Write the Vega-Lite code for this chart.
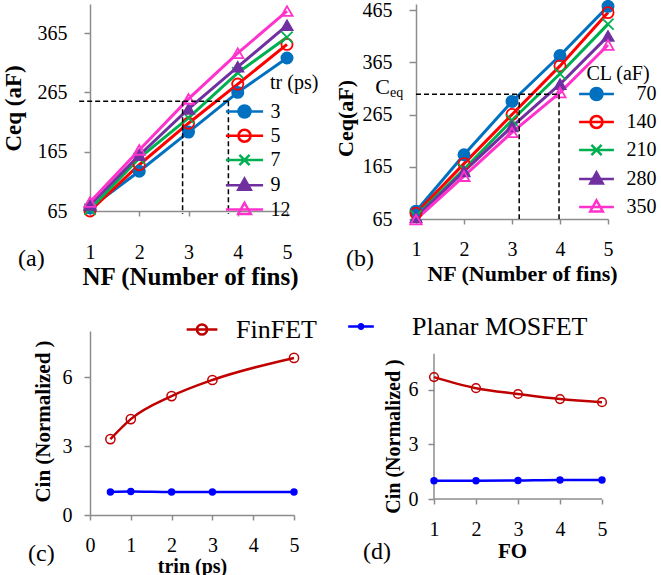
{
  "$schema": "https://vega.github.io/schema/vega-lite/v6.json",
  "padding": {"left": 1, "top": -3, "right": 0, "bottom": 0},
  "background": "white",
  "config": {
    "font": "Liberation Serif",
    "view": {"stroke": null},
    "axis": {"grid": false, "domainColor": "#8c8c8c", "domainWidth": 1.5, "tickColor": "#8c8c8c", "tickWidth": 1.5, "labelFontSize": 20, "labelColor": "black", "titleColor": "black", "titleFontWeight": "bold", "labelFlush": false, "labelOverlap": false, "titleBaseline": "middle"},
    "legend": {"labelFontSize": 20, "titleFontSize": 20, "titleFontWeight": "normal", "labelColor": "black", "titleColor": "black", "padding": 0, "labelLimit": 400},
    "title": {"fontSize": 24, "fontWeight": "normal", "color": "black"}
  },
  "datasets": {
    "a": [
      {"tr": "3", "NF": 1, "Ceq": 70}, {"tr": "3", "NF": 2, "Ceq": 132}, {"tr": "3", "NF": 3, "Ceq": 198}, {"tr": "3", "NF": 4, "Ceq": 265}, {"tr": "3", "NF": 5, "Ceq": 323},
      {"tr": "5", "NF": 1, "Ceq": 65}, {"tr": "5", "NF": 2, "Ceq": 143}, {"tr": "5", "NF": 3, "Ceq": 213}, {"tr": "5", "NF": 4, "Ceq": 279}, {"tr": "5", "NF": 5, "Ceq": 346},
      {"tr": "7", "NF": 1, "Ceq": 68}, {"tr": "7", "NF": 2, "Ceq": 154}, {"tr": "7", "NF": 3, "Ceq": 222}, {"tr": "7", "NF": 4, "Ceq": 298}, {"tr": "7", "NF": 5, "Ceq": 358},
      {"tr": "9", "NF": 1, "Ceq": 75}, {"tr": "9", "NF": 2, "Ceq": 159}, {"tr": "9", "NF": 3, "Ceq": 237}, {"tr": "9", "NF": 4, "Ceq": 308}, {"tr": "9", "NF": 5, "Ceq": 378},
      {"tr": "12", "NF": 1, "Ceq": 80}, {"tr": "12", "NF": 2, "Ceq": 168}, {"tr": "12", "NF": 3, "Ceq": 254}, {"tr": "12", "NF": 4, "Ceq": 331}, {"tr": "12", "NF": 5, "Ceq": 402}
    ],
    "a_guides": [
      {"NF": 0.78, "NF2": 3.81, "Ceq": 250, "Ceq2": 250},
      {"NF": 2.88, "NF2": 2.88, "Ceq": 250, "Ceq2": 60},
      {"NF": 3.81, "NF2": 3.81, "Ceq": 250, "Ceq2": 60}
    ],
    "b": [
      {"CL": "70", "NF": 1, "Ceq": 80}, {"CL": "70", "NF": 2, "Ceq": 188}, {"CL": "70", "NF": 3, "Ceq": 290}, {"CL": "70", "NF": 4, "Ceq": 378}, {"CL": "70", "NF": 5, "Ceq": 472},
      {"CL": "140", "NF": 1, "Ceq": 76}, {"CL": "140", "NF": 2, "Ceq": 171}, {"CL": "140", "NF": 3, "Ceq": 265}, {"CL": "140", "NF": 4, "Ceq": 358}, {"CL": "140", "NF": 5, "Ceq": 460},
      {"CL": "210", "NF": 1, "Ceq": 71}, {"CL": "210", "NF": 2, "Ceq": 160}, {"CL": "210", "NF": 3, "Ceq": 254}, {"CL": "210", "NF": 4, "Ceq": 343}, {"CL": "210", "NF": 5, "Ceq": 438},
      {"CL": "280", "NF": 1, "Ceq": 68}, {"CL": "280", "NF": 2, "Ceq": 156}, {"CL": "280", "NF": 3, "Ceq": 242}, {"CL": "280", "NF": 4, "Ceq": 323}, {"CL": "280", "NF": 5, "Ceq": 415},
      {"CL": "350", "NF": 1, "Ceq": 64}, {"CL": "350", "NF": 2, "Ceq": 147}, {"CL": "350", "NF": 3, "Ceq": 231}, {"CL": "350", "NF": 4, "Ceq": 307}, {"CL": "350", "NF": 5, "Ceq": 398}
    ],
    "b_guides": [
      {"NF": 1, "NF2": 3.98, "Ceq": 304, "Ceq2": 304},
      {"NF": 3.15, "NF2": 3.15, "Ceq": 304, "Ceq2": 65},
      {"NF": 3.98, "NF2": 3.98, "Ceq": 304, "Ceq2": 65}
    ],
    "b_note": [{"NF": 1, "Ceq": 304}],
    "c": [
      {"device": "FinFET", "trin": 0.5, "Cin": 3.3}, {"device": "FinFET", "trin": 1, "Cin": 4.17}, {"device": "FinFET", "trin": 2, "Cin": 5.17}, {"device": "FinFET", "trin": 3, "Cin": 5.87}, {"device": "FinFET", "trin": 5, "Cin": 6.83},
      {"device": "Planar MOSFET", "trin": 0.5, "Cin": 1.0}, {"device": "Planar MOSFET", "trin": 1, "Cin": 1.02}, {"device": "Planar MOSFET", "trin": 2, "Cin": 1.0}, {"device": "Planar MOSFET", "trin": 3, "Cin": 1.0}, {"device": "Planar MOSFET", "trin": 5, "Cin": 1.0}
    ],
    "d": [
      {"device": "FinFET", "FO": 1, "Cin": 6.71}, {"device": "FinFET", "FO": 2, "Cin": 6.1}, {"device": "FinFET", "FO": 3, "Cin": 5.78}, {"device": "FinFET", "FO": 4, "Cin": 5.5}, {"device": "FinFET", "FO": 5, "Cin": 5.33},
      {"device": "Planar MOSFET", "FO": 1, "Cin": 1.0}, {"device": "Planar MOSFET", "FO": 2, "Cin": 1.0}, {"device": "Planar MOSFET", "FO": 3, "Cin": 1.02}, {"device": "Planar MOSFET", "FO": 4, "Cin": 1.05}, {"device": "Planar MOSFET", "FO": 5, "Cin": 1.05}
    ]
  },
  "columns": 2,
  "align": {"row": "each", "column": "none"},
  "bounds": "flush",
  "spacing": {"row": 112, "column": 122},
  "resolve": {
    "scale": {"color": "independent", "fill": "independent", "shape": "independent", "size": "independent", "stroke": "independent"},
    "legend": {"color": "independent", "fill": "independent", "shape": "independent", "size": "independent", "stroke": "independent"}
  },
  "concat": [
    {
      "width": 197,
      "height": 207,
      "title": {"text": "(a)", "orient": "bottom", "anchor": "start", "frame": "group", "offset": -42.5, "dx": -72, "fontSize": 24},
      "resolve": {
        "scale": {"color": "independent", "fill": "independent", "shape": "independent", "stroke": "independent"},
        "legend": {"color": "independent", "fill": "independent", "shape": "independent", "stroke": "independent"}
      },
      "encoding": {
        "x": {"field": "NF", "type": "quantitative", "scale": {"domain": [1, 5], "nice": false, "zero": false},
          "axis": {"values": [1, 2, 3, 4, 5], "title": "NF (Number  of fins)", "titleFontSize": 25, "tickSize": 5, "labelPadding": 26.5, "titleX": 100, "titleY": 65}},
        "y": {"field": "Ceq", "type": "quantitative", "scale": {"domain": [65, 414], "nice": false, "zero": false},
          "axis": {"values": [65, 165, 265, 365], "title": "Ceq (aF)", "titleFontSize": 23, "tickSize": 6, "labelPadding": 17, "titleX": -77, "titleY": 104}}
      },
      "layer": [
        {
          "data": {"name": "a"},
          "mark": {"type": "line", "strokeWidth": 3},
          "encoding": {
            "color": {"field": "tr", "type": "nominal", "legend": null,
              "scale": {"domain": ["3", "5", "7", "9", "12"], "range": ["#0070C0", "#FF0000", "#00B050", "#7030A0", "#FF33CC"]}}
          }
        },
        {
          "data": {"name": "a"},
          "mark": {"type": "point", "filled": false, "size": 125, "strokeWidth": 1.8, "opacity": 1},
          "encoding": {
            "color": {"field": "tr", "type": "nominal", "legend": null,
              "scale": {"domain": ["3", "5", "7", "9", "12"], "range": ["#0070C0", "#FF0000", "#00B050", "#7030A0", "#FF33CC"]}},
            "shape": {"field": "tr", "type": "nominal", "legend": null,
              "scale": {"domain": ["3", "5", "7", "9", "12"], "range": ["circle", "circle", "M-1,-1L1,1M-1,1L1,-1", "triangle-up", "triangle-up"]}},
            "fill": {"field": "tr", "type": "nominal", "legend": null,
              "scale": {"domain": ["3", "5", "7", "9", "12"], "range": ["#0070C0", "transparent", "#00B050", "#7030A0", "transparent"]}}
          }
        },
        {
          "data": {"name": "a_guides"},
          "mark": {"type": "rule", "strokeDash": [5, 3], "strokeWidth": 1.5, "color": "black"},
          "encoding": {"x2": {"field": "NF2"}, "y2": {"field": "Ceq2"}}
        },
        {
          "data": {"name": "a"},
          "transform": [{"filter": "datum.NF == 1"}],
          "mark": {"type": "point", "filled": true, "opacity": 0, "size": 144, "strokeWidth": 2.5},
          "encoding": {
            "color": {"field": "tr", "type": "nominal",
              "scale": {"domain": ["3", "5", "7", "9", "12"], "range": ["#0070C0", "transparent", "#00B050", "#7030A0", "transparent"]},
              "legend": {"title": "tr (ps)", "orient": "none", "legendX": 144.5, "legendY": 69, "symbolSize": 144, "symbolOpacity": 1, "symbolStrokeWidth": 2.5, "labelOffset": 15.9, "rowPadding": 2.25, "titlePadding": 8.5,
                "encode": {"title": {"update": {"dx": {"value": 35.5}}}}}},
            "stroke": {"field": "tr", "type": "nominal",
              "scale": {"domain": ["3", "5", "7", "9", "12"], "range": ["#0070C0", "#FF0000", "#00B050", "#7030A0", "#FF33CC"]},
              "legend": {"title": "tr (ps)", "orient": "none", "legendX": 144.5, "legendY": 69, "symbolSize": 144, "symbolOpacity": 1, "symbolStrokeWidth": 2.5, "labelOffset": 15.9, "rowPadding": 2.25, "titlePadding": 8.5}},
            "shape": {"field": "tr", "type": "nominal",
              "scale": {"domain": ["3", "5", "7", "9", "12"], "range": [
                "M-3.1,0L3.1,0M-1,0A1,1,0,1,1,1,0A1,1,0,1,1,-1,0Z",
                "M-3.1,0L3.1,0M-1,0A1,1,0,1,1,1,0A1,1,0,1,1,-1,0Z",
                "M-3.1,0L3.1,0M-0.85,-0.85L0.85,0.85M-0.85,0.85L0.85,-0.85",
                "M-3.1,0L3.1,0M0,-1.1L1.05,0.75L-1.05,0.75Z",
                "M-3.1,0L3.1,0M0,-1.1L1.05,0.75L-1.05,0.75Z"]},
              "legend": {"title": "tr (ps)", "orient": "none", "legendX": 144.5, "legendY": 69, "symbolSize": 144, "symbolOpacity": 1, "symbolStrokeWidth": 2.5, "labelOffset": 15.9, "rowPadding": 2.25, "titlePadding": 8.5}}
          }
        }
      ]
    },
    {
      "width": 192,
      "height": 215,
      "title": {"text": "(b)", "orient": "bottom", "anchor": "start", "frame": "group", "offset": -37, "dx": -70, "fontSize": 24},
      "resolve": {
        "scale": {"color": "independent", "fill": "independent", "shape": "independent", "stroke": "independent"},
        "legend": {"color": "independent", "fill": "independent", "shape": "independent", "stroke": "independent"}
      },
      "encoding": {
        "x": {"field": "NF", "type": "quantitative", "scale": {"domain": [1, 5], "nice": false, "zero": false},
          "axis": {"values": [1, 2, 3, 4, 5], "title": "NF (Number of fins)", "titleFontSize": 22, "tickSize": 5, "labelPadding": 15.8, "titleX": 106, "titleY": 54}},
        "y": {"field": "Ceq", "type": "quantitative", "scale": {"domain": [65, 476.5], "nice": false, "zero": false},
          "axis": {"values": [65, 165, 265, 365, 465], "title": "Ceq(aF)", "titleFontSize": 22, "tickSize": 7, "labelPadding": 17, "titleX": -71, "titleY": 114}}
      },
      "layer": [
        {
          "data": {"name": "b"},
          "mark": {"type": "line", "strokeWidth": 3},
          "encoding": {
            "color": {"field": "CL", "type": "nominal", "legend": null,
              "scale": {"domain": ["70", "140", "210", "280", "350"], "range": ["#0070C0", "#FF0000", "#00B050", "#7030A0", "#FF33CC"]}}
          }
        },
        {
          "data": {"name": "b"},
          "mark": {"type": "point", "filled": false, "size": 125, "strokeWidth": 1.8, "opacity": 1},
          "encoding": {
            "color": {"field": "CL", "type": "nominal", "legend": null,
              "scale": {"domain": ["70", "140", "210", "280", "350"], "range": ["#0070C0", "#FF0000", "#00B050", "#7030A0", "#FF33CC"]}},
            "shape": {"field": "CL", "type": "nominal", "legend": null,
              "scale": {"domain": ["70", "140", "210", "280", "350"], "range": ["circle", "circle", "M-1,-1L1,1M-1,1L1,-1", "triangle-up", "triangle-up"]}},
            "fill": {"field": "CL", "type": "nominal", "legend": null,
              "scale": {"domain": ["70", "140", "210", "280", "350"], "range": ["#0070C0", "transparent", "#00B050", "#7030A0", "transparent"]}}
          }
        },
        {
          "data": {"name": "b_guides"},
          "mark": {"type": "rule", "strokeDash": [5, 3], "strokeWidth": 1.5, "color": "black"},
          "encoding": {"x2": {"field": "NF2"}, "y2": {"field": "Ceq2"}}
        },
        {
          "data": {"name": "b_note"},
          "mark": {"type": "text", "text": "C", "align": "right", "baseline": "middle", "dx": -26, "dy": -7, "fontSize": 22, "color": "black"},
          "encoding": {}
        },
        {
          "data": {"name": "b_note"},
          "mark": {"type": "text", "text": "eq", "align": "left", "baseline": "middle", "dx": -26, "dy": -1, "fontSize": 14, "color": "black"},
          "encoding": {}
        },
        {
          "data": {"name": "b"},
          "transform": [{"filter": "datum.NF == 1"}],
          "mark": {"type": "point", "filled": false, "opacity": 0, "size": 144, "strokeWidth": 2.5},
          "encoding": {
            "color": {"field": "CL", "type": "nominal",
              "scale": {"domain": ["70", "140", "210", "280", "350"], "range": ["#0070C0", "#FF0000", "#00B050", "#7030A0", "#FF33CC"]},
              "legend": {"title": "CL (aF)", "orient": "none", "legendX": 170.5, "legendY": 59.5, "symbolSize": 144, "symbolOpacity": 1, "symbolStrokeWidth": 2.5, "labelOffset": 50, "labelAlign": "right", "rowPadding": 6, "titlePadding": 0.5,
                "encode": {"title": {"update": {"dx": {"value": 26.5}}}}}},
            "fill": {"field": "CL", "type": "nominal",
              "scale": {"domain": ["70", "140", "210", "280", "350"], "range": ["#0070C0", "transparent", "#00B050", "#7030A0", "transparent"]},
              "legend": {"title": "CL (aF)", "orient": "none", "legendX": 170.5, "legendY": 59.5, "symbolSize": 144, "symbolOpacity": 1, "symbolStrokeWidth": 2.5, "labelOffset": 50, "labelAlign": "right", "rowPadding": 6, "titlePadding": 0.5}},
            "shape": {"field": "CL", "type": "nominal",
              "scale": {"domain": ["70", "140", "210", "280", "350"], "range": [
                "M-2.9,0L2.9,0M-1,0A1,1,0,1,1,1,0A1,1,0,1,1,-1,0Z",
                "M-2.9,0L2.9,0M-1,0A1,1,0,1,1,1,0A1,1,0,1,1,-1,0Z",
                "M-2.9,0L2.9,0M-0.85,-0.85L0.85,0.85M-0.85,0.85L0.85,-0.85",
                "M-2.9,0L2.9,0M0,-1.1L1.05,0.75L-1.05,0.75Z",
                "M-2.9,0L2.9,0M0,-1.1L1.05,0.75L-1.05,0.75Z"]},
              "legend": {"title": "CL (aF)", "orient": "none", "legendX": 170.5, "legendY": 59.5, "symbolSize": 144, "symbolOpacity": 1, "symbolStrokeWidth": 2.5, "labelOffset": 50, "labelAlign": "right", "rowPadding": 6, "titlePadding": 0.5}}
          }
        }
      ]
    },
    {
      "width": 204,
      "height": 184,
      "title": {"text": "(c)", "orient": "bottom", "anchor": "start", "frame": "group", "offset": -34, "dx": -62, "fontSize": 24},
      "data": {"name": "c"},
      "encoding": {
        "x": {"field": "trin", "type": "quantitative", "scale": {"domain": [0, 5], "nice": false},
          "axis": {"values": [0, 1, 2, 3, 4, 5], "title": "trin (ps)", "titleFontSize": 20, "tickSize": 5, "labelPadding": 15, "titleX": 102, "titleY": 51}},
        "y": {"field": "Cin", "type": "quantitative", "scale": {"domain": [0, 8], "nice": false},
          "axis": {"values": [0, 3, 6], "title": "Cin (Normalized )", "titleFontSize": 21, "tickSize": 6, "labelPadding": 12, "titleX": -47, "titleY": 90}}
      },
      "layer": [
        {
          "mark": {"type": "line", "strokeWidth": 2.5, "interpolate": "monotone"},
          "encoding": {
            "color": {"field": "device", "type": "nominal",
              "scale": {"domain": ["FinFET", "Planar MOSFET"], "range": ["#C00000", "#0000FF"]},
              "legend": {
                "title": null, "values": ["FinFET"], "orient": "none", "legendX": 99, "legendY": -14.5,
                "symbolSize": 144, "labelOffset": 21, "labelFontSize": 26,
                "encode": {"symbols": {"update": {
                  "shape": {"value": "M-3.33,0L3.33,0M-1.1,0A1.1,1.1,0,1,1,1.1,0A1.1,1.1,0,1,1,-1.1,0Z"},
                  "fill": {"value": "transparent"},
                  "strokeWidth": {"value": 2.5},
                  "opacity": {"value": 1}
                }}}
              }
            }
          }
        },
        {
          "mark": {"type": "point", "filled": false, "strokeWidth": 1.5, "opacity": 1, "shape": "circle"},
          "encoding": {
            "color": {"field": "device", "type": "nominal", "legend": null},
            "fill": {"field": "device", "type": "nominal", "legend": null, "scale": {"domain": ["FinFET", "Planar MOSFET"], "range": ["transparent", "#0000FF"]}},
            "size": {"field": "device", "type": "nominal", "legend": null, "scale": {"domain": ["FinFET", "Planar MOSFET"], "range": [85, 35]}}
          }
        }
      ]
    },
    {
      "width": 186,
      "height": 168,
      "title": {"text": "(d)", "orient": "bottom", "anchor": "start", "frame": "group", "offset": -21.5, "dx": -53, "fontSize": 24},
      "data": {"name": "d"},
      "encoding": {
        "x": {"field": "FO", "type": "quantitative", "scale": {"domain": [0.5714, 5], "nice": false, "zero": false},
          "axis": {"values": [1, 2, 3, 4, 5], "domain": false, "title": "FO", "titleFontSize": 21, "tickSize": 5, "labelPadding": 15, "titleX": 96, "titleY": 52}},
        "y": {"field": "Cin", "type": "quantitative", "scale": {"domain": [0, 9.246], "nice": false},
          "axis": {"values": [0, 3, 6], "domain": false, "offset": -18, "title": "Cin  (Normalized )", "titleFontSize": 20, "tickSize": 6, "labelPadding": 10, "titleX": -41, "titleY": 105}}
      },
      "layer": [
        {
          "transform": [{"filter": "datum.device == 'FinFET' && datum.FO == 1"}],
          "mark": {"type": "rule", "color": "#8c8c8c", "strokeWidth": 1.5},
          "encoding": {"x": {"datum": 1}, "y": {"datum": 0}, "y2": {"datum": 8}}
        },
        {
          "transform": [{"filter": "datum.device == 'FinFET' && datum.FO == 1"}],
          "mark": {"type": "rule", "color": "#8c8c8c", "strokeWidth": 1.5},
          "encoding": {"x": {"datum": 1}, "x2": {"datum": 5}, "y": {"datum": 0}}
        },
        {
          "mark": {"type": "line", "strokeWidth": 2.5, "interpolate": "monotone"},
          "encoding": {
            "color": {"field": "device", "type": "nominal",
              "scale": {"domain": ["FinFET", "Planar MOSFET"], "range": ["#C00000", "#0000FF"]},
              "legend": {
                "title": null, "values": ["Planar MOSFET"], "orient": "none", "legendX": -68, "legendY": -17.5,
                "symbolSize": 144, "labelOffset": 38, "labelFontSize": 26,
                "encode": {"symbols": {"update": {
                  "shape": {"value": "M-4.33,0L4.33,0M-0.75,0A0.75,0.75,0,1,1,0.75,0A0.75,0.75,0,1,1,-0.75,0Z"},
                  "fill": {"value": "#0000FF"},
                  "strokeWidth": {"value": 2.5},
                  "opacity": {"value": 1}
                }}}
              }
            }
          }
        },
        {
          "mark": {"type": "point", "filled": false, "strokeWidth": 1.5, "opacity": 1, "shape": "circle"},
          "encoding": {
            "color": {"field": "device", "type": "nominal", "legend": null},
            "fill": {"field": "device", "type": "nominal", "legend": null, "scale": {"domain": ["FinFET", "Planar MOSFET"], "range": ["transparent", "#0000FF"]}},
            "size": {"field": "device", "type": "nominal", "legend": null, "scale": {"domain": ["FinFET", "Planar MOSFET"], "range": [75, 35]}}
          }
        }
      ]
    }
  ]
}
